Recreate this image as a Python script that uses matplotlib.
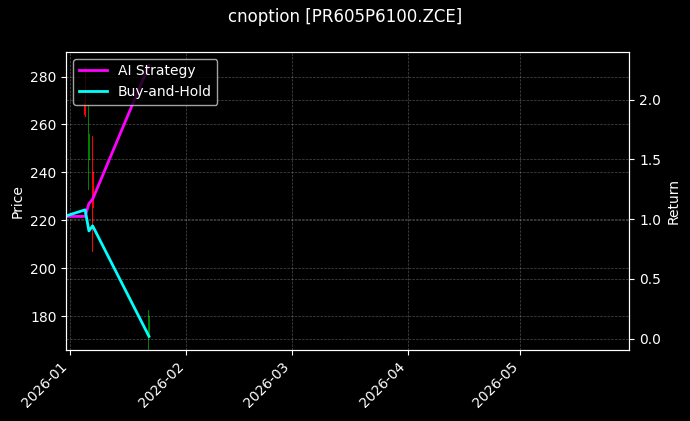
import matplotlib
matplotlib.use('Agg')
import matplotlib.pyplot as plt
import matplotlib.dates as mdates
import datetime as dt

# ---- data ----
candle_dates = ['2026-01-05', '2026-01-06', '2026-01-07', '2026-01-22']
opens = [270.0, 245.0, 240.0, 171.0]
highs = [284.4, 268.0, 255.4, 182.5]
lows = [263.0, 232.5, 206.8, 166.0]
closes = [264.0, 256.0, 225.0, 180.0]

line_dates = ['2025-12-31', '2026-01-05', '2026-01-06', '2026-01-07', '2026-01-22']
ai_strategy = [1.023, 1.023, 1.13, 1.167, 2.287]
buy_hold = [1.028, 1.078, 0.902, 0.944, 0.02]

title = 'cnoption [PR605P6100.ZCE]'
x_start = '2025-12-31'
x_end = '2026-05-30'

plt.style.use('dark_background')

def to_num(s):
    return mdates.date2num(dt.datetime.strptime(s, '%Y-%m-%d'))

fig = plt.figure(figsize=(6.9, 4.21), dpi=100)
ax = fig.add_subplot(111)
fig.subplots_adjust(left=0.0962, right=0.912, top=0.877, bottom=0.169)

cx = [to_num(d) for d in candle_dates]
for x, o, h, l, c in zip(cx, opens, highs, lows, closes):
    col = 'green' if c >= o else 'red'
    ax.bar(x, h - l, bottom=l, width=0.3, color=col, linewidth=0)
    ax.bar(x, abs(c - o), bottom=min(o, c), width=0.6, color=col, linewidth=0)

ax.set_ylabel('Price', color='white')
ax.grid(True, linestyle='--', linewidth=0.5, alpha=0.3)

ax2 = ax.twinx()
lx = [to_num(d) for d in line_dates]
ax2.plot(lx, ai_strategy, color='magenta', linewidth=2, label='AI Strategy')
ax2.plot(lx, buy_hold, color='cyan', linewidth=2, label='Buy-and-Hold')
ax2.set_ylabel('Return', color='white')
ax2.grid(True, linestyle='--', linewidth=0.5, alpha=0.3)
ax2.legend(loc='upper left')

ax.set_xlim(to_num(x_start), to_num(x_end))
ax.xaxis.set_major_locator(mdates.MonthLocator())
ax.xaxis.set_major_formatter(mdates.DateFormatter('%Y-%m'))
plt.setp(ax.get_xticklabels(), rotation=45, ha='right')

fig.suptitle(title, fontsize=12, color='white')
fig.savefig('out.png', dpi=100, facecolor='black')
